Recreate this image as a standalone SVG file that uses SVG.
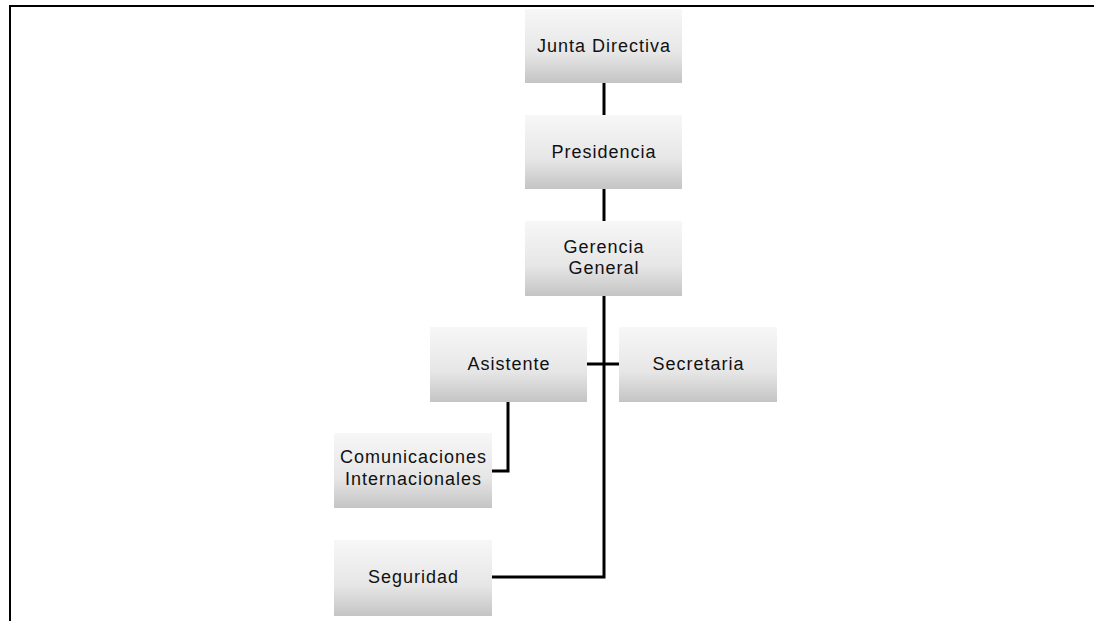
<svg xmlns="http://www.w3.org/2000/svg" width="1094" height="621" viewBox="0 0 1094 621">
<style>
.box{fill:url(#g);}
.t{font-family:"Liberation Sans",Arial,sans-serif;font-size:18px;letter-spacing:1px;fill:#111;text-anchor:middle;}
.c{fill:none;stroke:#000;stroke-width:3;}
</style>
<defs>
<linearGradient id="g" x1="0" y1="0" x2="0" y2="1">
<stop offset="0" stop-color="#f7f7f7"/>
<stop offset="0.6" stop-color="#e6e6e6"/>
<stop offset="1" stop-color="#c4c4c4"/>
</linearGradient>
</defs>
<rect width="1094" height="621" fill="#fff"/>
<path d="M10 621 V6 H1094" fill="none" stroke="#000" stroke-width="2"/>
<g id="connectors">
<path class="c" d="M604 83 V115"/>
<path class="c" d="M604 189 V221"/>
<path class="c" d="M604 296 V577 H492"/>
<path class="c" d="M587 364 H619"/>
<path class="c" d="M508 402 V471 H492"/>
</g>
<g id="junta"><rect class="box" x="525" y="9" width="157" height="74"/><text class="t" x="604" y="52">Junta Directiva</text></g>
<g id="presidencia"><rect class="box" x="525" y="115" width="157" height="74"/><text class="t" x="604" y="158">Presidencia</text></g>
<g id="gerencia"><rect class="box" x="525" y="221" width="157" height="75"/><text class="t" x="604" y="253">Gerencia</text><text class="t" x="604" y="274">General</text></g>
<g id="asistente"><rect class="box" x="430" y="327" width="157" height="75"/><text class="t" x="509" y="370">Asistente</text></g>
<g id="secretaria"><rect class="box" x="619" y="327" width="158" height="75"/><text class="t" x="698.5" y="370">Secretaria</text></g>
<g id="comunicaciones"><rect class="box" x="334" y="433" width="158" height="75"/><text class="t" x="413.5" y="463">Comunicaciones</text><text class="t" x="413.5" y="485">Internacionales</text></g>
<g id="seguridad"><rect class="box" x="334" y="540" width="158" height="76"/><text class="t" x="413.5" y="583">Seguridad</text></g>
</svg>
